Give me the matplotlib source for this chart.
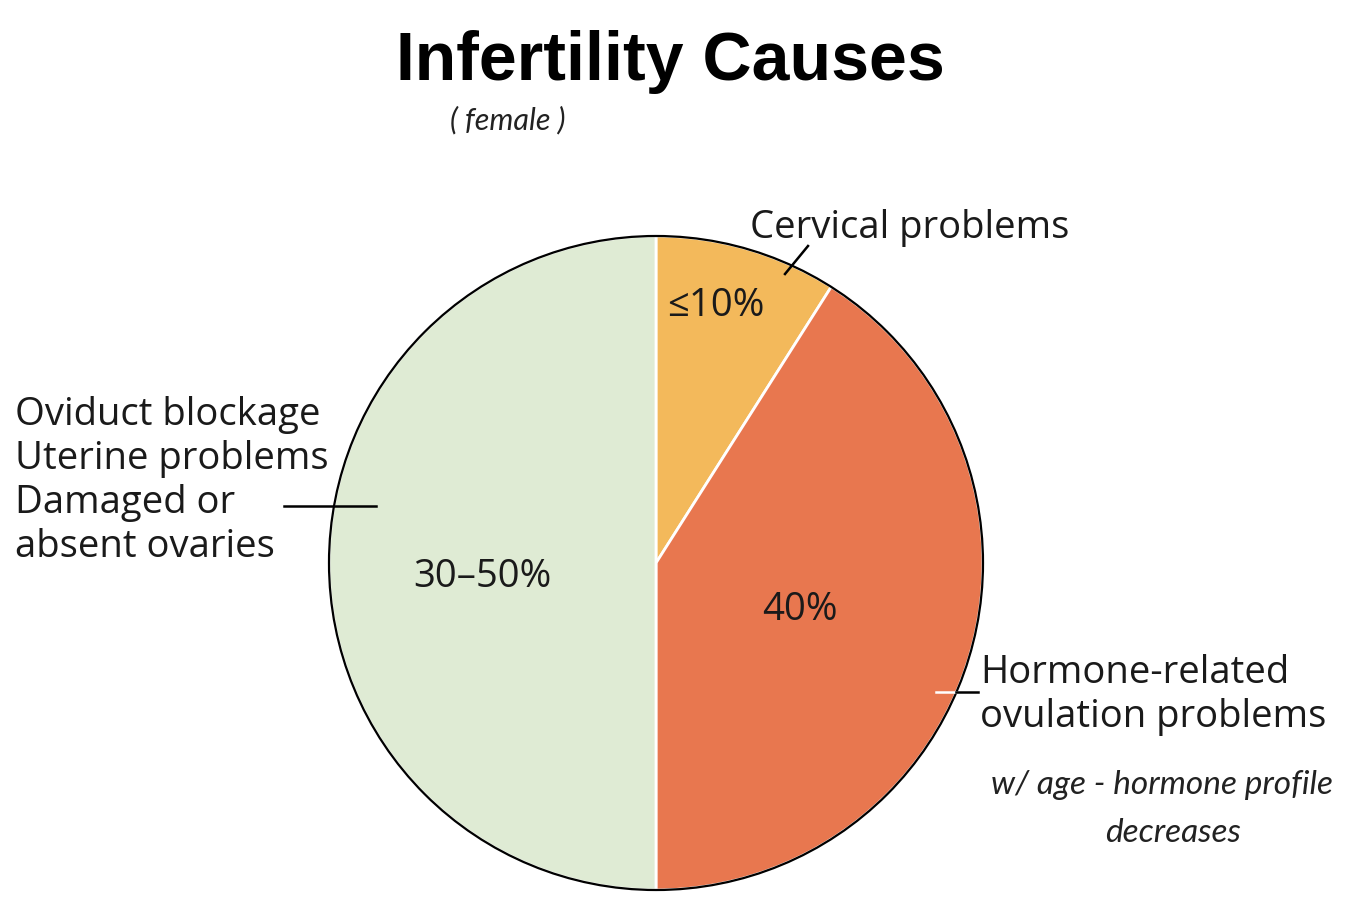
import matplotlib.pyplot as plt
from matplotlib.patches import Circle

# data
causes = ['Cervical problems', 'Hormone-related\novulation problems',
          'Oviduct blockage\nUterine problems\nDamaged or\nabsent ovaries']
shares = [9, 41, 50]
pct_labels = ['\u226410%', '40%', '30\u201350%']
colors = ['#F3B95B', '#E8774F', '#DFEBD4']

W, H = 1351, 899
fig = plt.figure(figsize=(W / 100, H / 100), dpi=100)
ax = fig.add_axes([0, 0, 1, 1])

cx, cy, r = 656, H - 563, 327

ax.pie(shares, colors=colors, startangle=90, counterclock=False,
       center=(cx, cy), radius=r, frame=True,
       wedgeprops=dict(edgecolor='white', linewidth=2))
ax.set_xlim(0, W)
ax.set_ylim(0, H)
ax.set_aspect('equal')
ax.axis('off')
ax.add_patch(Circle((cx, cy), r, fill=False, edgecolor='black', lw=1.6, zorder=5))

lab_font = 'Open Sans'
fs = 27.5
tc = '#1a1a1a'

def yy(y):
    return H - y

# percentage labels
ax.text(716, yy(306), pct_labels[0], fontsize=fs, family=lab_font, ha='center', va='center', color=tc)
ax.text(800, yy(610), pct_labels[1], fontsize=fs, family=lab_font, ha='center', va='center', color=tc)
ax.text(482, yy(577), pct_labels[2], fontsize=fs, family=lab_font, ha='center', va='center', color=tc)

# category labels
ax.text(750, yy(228), causes[0], fontsize=fs, family=lab_font, ha='left', va='center', color=tc)
ax.text(980, yy(695), causes[1], fontsize=fs, family=lab_font, ha='left', va='center',
        linespacing=1.21, color=tc)
ax.text(15, yy(481), causes[2], fontsize=fs, family=lab_font, ha='left', va='center',
        linespacing=1.21, color=tc)

# leader lines
ax.plot([785, 808], [yy(274), yy(246)], color='black', lw=1.8, zorder=6)
ax.plot([284, 376], [yy(506), yy(506)], color='black', lw=1.8, zorder=6)
ax.plot([936, 956], [yy(692), yy(692)], color='white', lw=1.8, zorder=6)
ax.plot([956, 978], [yy(692), yy(692)], color='black', lw=1.8, zorder=6)

# title
ax.text(670, yy(62), 'Infertility Causes', fontsize=49, fontweight='bold',
        family='Liberation Sans', ha='center', va='center')

# handwritten notes
ax.text(508, yy(120), '( female )', fontsize=22, family='Lato',
        style='italic', ha='center', va='center', color='#222222')
ax.text(1162, yy(785), 'w/ age - hormone profile', fontsize=24, family='Lato',
        style='italic', ha='center', va='center', color='#222222')
ax.text(1173, yy(833), 'decreases', fontsize=24, family='Lato',
        style='italic', ha='center', va='center', color='#222222')

fig.savefig('out.png', dpi=100)
